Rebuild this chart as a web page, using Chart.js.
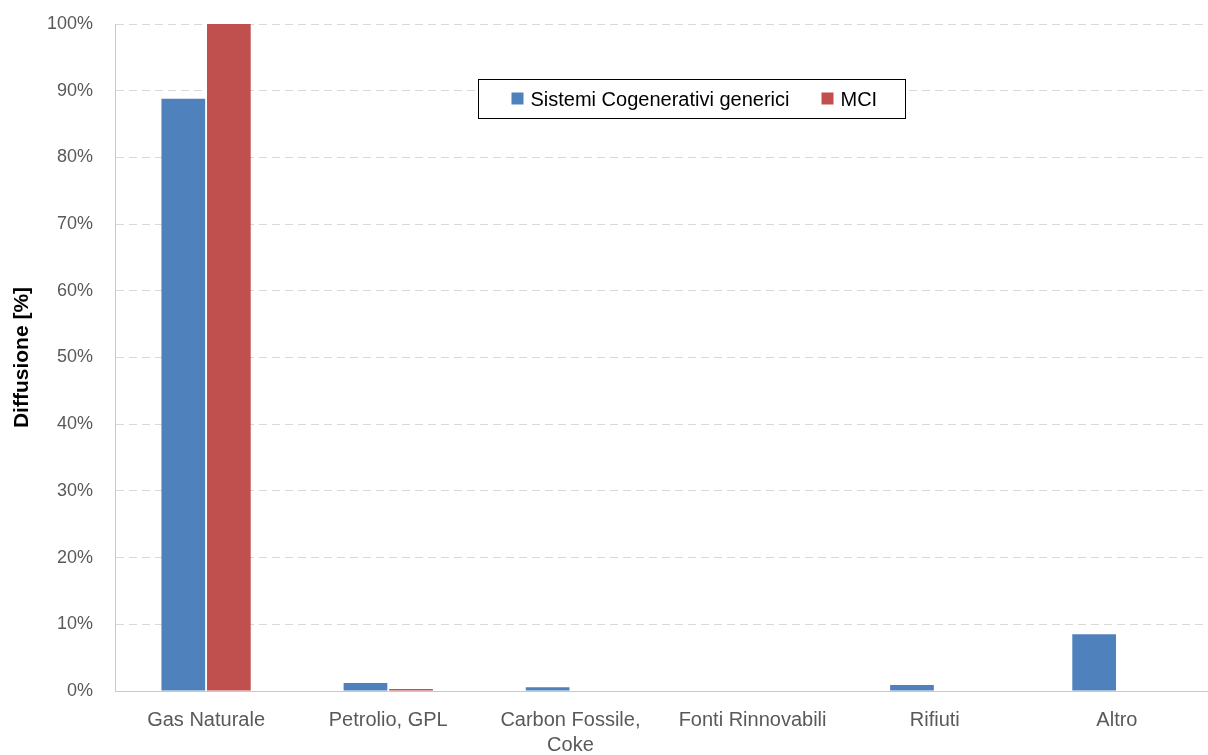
<!DOCTYPE html>
<html>
<head>
<meta charset="utf-8">
<script src="https://cdn.jsdelivr.net/npm/chart.js@4.4.1/dist/chart.umd.min.js"></script>
<style>
  html, body { margin: 0; padding: 0; background: #fff; }
  #wrap { width: 1208px; height: 755px; }
</style>
</head>
<body>
<div id="wrap"><canvas id="chartCanvas" width="1208" height="755"></canvas></div>
<script>
const categories = ["Gas Naturale", "Petrolio, GPL", ["Carbon Fossile,", "Coke"], "Fonti Rinnovabili", "Rifiuti", "Altro"];
const cogenerativi = [88.8, 1.2, 0.55, 0, 0.9, 8.5];
const mci = [100, 0.3, 0, 0, 0, 0];
const yTicks = [0, 10, 20, 30, 40, 50, 60, 70, 80, 90, 100];

const FONT = "'Liberation Sans', Arial, sans-serif";

// boxed legend drawn inside the plot, like the spreadsheet one
const boxLegend = {
  id: "boxLegend",
  afterDraw(chart) {
    const ctx = chart.ctx;
    const area = chart.chartArea;
    const x0 = area.left + 363.5, y0 = area.top + 55.5;
    const w = 427, h = 39;
    ctx.save();
    ctx.fillStyle = "#fff";
    ctx.fillRect(x0, y0, w, h);
    ctx.strokeStyle = "#000";
    ctx.lineWidth = 1;
    ctx.strokeRect(x0, y0, w, h);
    ctx.font = "20px " + FONT;
    ctx.textBaseline = "middle";
    let x = x0 + 33;
    chart.data.datasets.forEach((ds, i) => {
      ctx.fillStyle = ds.backgroundColor;
      ctx.fillRect(x, y0 + 13, 12, 12);
      ctx.fillStyle = "#000";
      ctx.fillText(ds.label, x + 19, y0 + h / 2 + 1);
      x += 19 + ctx.measureText(ds.label).width + 32;
    });
    ctx.restore();
  }
};

const ctx = document.getElementById("chartCanvas").getContext("2d");
new Chart(ctx, {
  type: "bar",
  data: {
    labels: categories,
    datasets: [
      { label: "Sistemi Cogenerativi generici", data: cogenerativi, backgroundColor: "#4F81BD" },
      { label: "MCI", data: mci, backgroundColor: "#C0504D" }
    ]
  },
  options: {
    responsive: false,
    animation: false,
    layout: { padding: { top: 24, left: 0, right: 0, bottom: 0 } },
    datasets: { bar: { barPercentage: 0.96, categoryPercentage: 0.5 } },
    plugins: {
      legend: { display: false },
      tooltip: { enabled: false }
    },
    scales: {
      x: {
        grid: { display: false, drawTicks: false },
        border: { display: true, color: "#c8c8c8", width: 1 },
        ticks: { color: "#595959", font: { family: FONT, size: 20, lineHeight: 1.25 }, padding: 17, maxRotation: 0, autoSkip: false },
        afterFit: s => { s.height = 64; s.paddingLeft = 0; s.paddingRight = 0; }
      },
      y: {
        min: 0,
        max: 100,
        afterBuildTicks: s => { s.ticks = yTicks.map(v => ({ value: v })); },
        grid: { color: "#d9d9d9", drawTicks: false, lineWidth: 1 },
        border: { display: true, color: "#c8c8c8", width: 1, dash: [8, 5] },
        ticks: { color: "#595959", font: { family: FONT, size: 18 }, padding: 22, callback: v => v + "%" },
        title: { display: true, text: "Diffusione [%]", color: "#000", font: { family: FONT, size: 21, weight: "bold" }, padding: { top: 10, bottom: 0 } },
        afterFit: s => { s.width = 115; s.paddingTop = 0; s.paddingBottom = 0; }
      }
    }
  },
  plugins: [boxLegend]
});
</script>
</body>
</html>
